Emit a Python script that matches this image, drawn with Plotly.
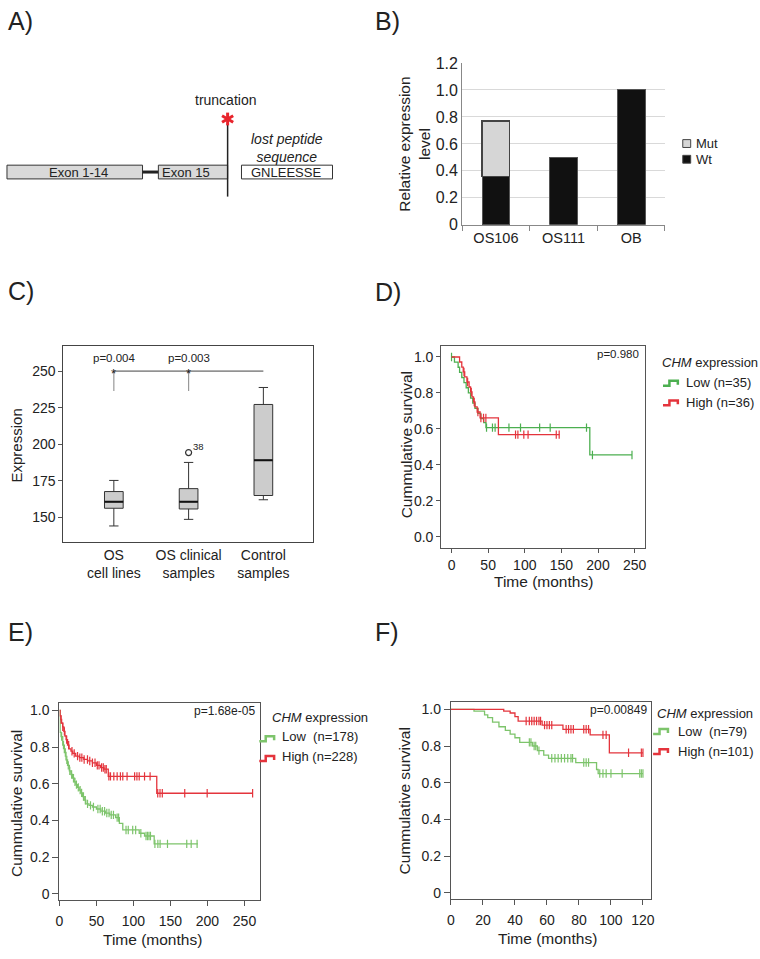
import numpy as np
import plotly.graph_objects as go

W, H = 760, 959
FONT = "Liberation Sans, Arial, Helvetica, sans-serif"
INK = "#222222"
GREEN_D = "#4caf50"
GREEN_EF = "#7dc46b"
RED = "#e4343c"

# ---- B) relative expression
b_samples = ["OS106", "OS111", "OB"]
b_wt = [0.36, 0.50, 1.00]
b_mut = [0.41, None, None]
b_ytick = [0, 0.2, 0.4, 0.6, 0.8, 1.0, 1.2]
b_yticktext = ["0", "0.2", "0.4", "0.6", "0.8", "1.0", "1.2"]

# ---- C) expression boxplot
c_groups = ["OS<br>cell lines", "OS clinical<br>samples", "Control<br>samples"]
c_lowerfence = [144.2, 148.7, 162.1]
c_q1 = [156.3, 155.8, 165.0]
c_median = [160.7, 160.7, 189.1]
c_q3 = [167.7, 169.7, 227.2]
c_upperfence = [175.3, 187.6, 238.8]
c_outlier_x = [1]
c_outlier_y = [194.3]
c_outlier_label = ["38"]
c_pvalues = ["p=0.004", "p=0.003"]
c_bracket_y = 250
c_bracket_base = 236.4

# ---- D) survival, first cohort
d_low_t = [0, 4, 9, 11, 14, 17, 20, 23, 26, 29, 32, 36, 40, 44, 47, 188.8]
d_low_s = [1.0, 0.971, 0.943, 0.914, 0.886, 0.857, 0.829, 0.800, 0.771, 0.743, 0.714, 0.686, 0.657, 0.635, 0.607, 0.455]
d_low_end = 246.4
d_low_cens = [0, 47.8, 55.9, 59.5, 78.4, 94.2, 120.3, 134.7, 184.3, 192.4, 246.4]
d_high_t = [0, 11, 14, 16, 18, 21, 24, 26, 28, 30, 32, 35, 39, 64]
d_high_s = [1.0, 0.972, 0.944, 0.917, 0.889, 0.861, 0.833, 0.806, 0.778, 0.750, 0.722, 0.694, 0.661, 0.568]
d_high_end = 147.5
d_high_cens = [17, 22, 27, 31, 36, 40.1, 43.7, 46.9, 87.4, 90.6, 98.7, 104.5, 143, 147]

# ---- E) survival, second cohort
e_high_t = [0, 1, 2, 3, 4.5, 6, 7.5, 9, 11, 13, 15.6, 18, 22, 27, 33, 38, 44.6, 50, 55.7, 60, 66, 131.5]
e_high_s = [1.0, 0.97, 0.95, 0.93, 0.91, 0.885, 0.86, 0.84, 0.81, 0.79, 0.777, 0.765, 0.75, 0.742, 0.732,
            0.724, 0.714, 0.70, 0.688, 0.679, 0.640, 0.548]
e_high_end = 261
e_high_cens = [2.2, 4.5, 6.7, 9.8, 12.5, 17, 20, 24.5, 27.6, 30.3, 33.4, 37.9, 41, 44.6, 48.1, 51.2, 53.5,
               57, 59.3, 61.5, 63.3, 66.8, 69, 73.5, 78, 82.4, 85.6, 91.4, 101.6, 104.7, 107.8, 115, 122.5,
               132.8, 135.9, 139, 169.3, 199.6, 261]
e_low_t = [0, 1, 2.2, 4.5, 6.7, 8.9, 11, 13.4, 15.5, 17.8, 20, 22.3, 24.5, 26.7, 29, 31.2, 33.5, 35.7, 40,
           44.6, 50, 56, 62, 68, 76, 81, 85.6, 107.8, 115, 128]
e_low_s = [1.0, 0.88, 0.857, 0.81, 0.77, 0.73, 0.70, 0.67, 0.65, 0.63, 0.61, 0.595, 0.58, 0.565, 0.55, 0.53,
           0.51, 0.49, 0.482, 0.473, 0.462, 0.450, 0.440, 0.430, 0.415, 0.384, 0.348, 0.330, 0.315, 0.272]
e_low_end = 187
e_low_cens = [3, 5.5, 8, 10, 12, 14, 16.5, 19, 21, 23, 25.5, 28, 30, 32.5, 35, 38, 42, 46, 52, 55, 58, 61,
              64, 67, 70, 73, 78, 80, 90, 93, 99, 103, 110, 117, 119, 121, 123, 129, 133, 136, 146, 172,
              178, 186]

# ---- F) survival, third cohort
f_high_t = [0, 33, 37, 40, 42, 57, 70, 87, 99]
f_high_s = [1.0, 0.99, 0.98, 0.96, 0.936, 0.914, 0.891, 0.861, 0.763]
f_high_end = 120
f_high_cens = [47, 49, 50.5, 52, 53.5, 55, 56, 58.5, 60, 61.5, 63, 72, 73.5, 75, 76.5, 83, 84.5, 86, 95, 97,
               111, 119, 120]
f_low_t = [0, 14.4, 21, 23, 26, 30, 34, 37, 40, 43, 51, 54, 58, 61, 78, 91, 92]
f_low_s = [1.0, 0.99, 0.97, 0.955, 0.93, 0.905, 0.885, 0.865, 0.845, 0.82, 0.80, 0.775, 0.75, 0.733, 0.71,
           0.672, 0.65]
f_low_end = 120
f_low_cens = [49, 50, 52, 53, 55, 63, 65, 67, 69, 71, 73, 75, 76, 83, 84.5, 86, 93, 95, 97, 100, 107, 118,
              119, 120]

surv_ticks = [0, 0.2, 0.4, 0.6, 0.8, 1.0]
surv_ticktext = ["0", "0.2", "0.4", "0.6", "0.8", "1.0"]


def km_at(t, s, tc):
    idx = np.searchsorted(np.asarray(t), np.asarray(tc), side="right") - 1
    return np.asarray(s)[idx]


def add_km(fig, t, s, end, cens, color, xa, ya):
    fig.add_trace(go.Scatter(x=list(t) + [end], y=list(s) + [s[-1]], mode="lines",
                             line=dict(color=color, width=1.3, shape="hv"),
                             xaxis=xa, yaxis=ya, hoverinfo="skip"))
    fig.add_trace(go.Scatter(x=cens, y=km_at(t, s, cens), mode="markers",
                             marker=dict(symbol="line-ns", size=6, line=dict(color=color, width=1.2)),
                             xaxis=xa, yaxis=ya, hoverinfo="skip"))


def frame(**kw):
    d = dict(showline=True, mirror=True, linecolor="#555", linewidth=1.3, ticks="outside", ticklen=4,
             tickcolor="#555", showgrid=False, zeroline=False, fixedrange=True,
             tickfont=dict(size=14, color=INK))
    d.update(kw)
    return d


def dom_x(a, b):
    return [a / W, b / W]


def dom_y(bottom, top):
    return [1 - bottom / H, 1 - top / H]


def txt(x, y, text, size, xanchor="center", angle=0, color=INK):
    return dict(x=x, y=y, xref="x6", yref="y6", text=text, showarrow=False, xanchor=xanchor,
                yanchor="middle", textangle=angle, font=dict(size=size, color=color))


fig = go.Figure()

# B
fig.add_trace(go.Bar(x=b_samples, y=b_wt, name="Wt", marker=dict(color="#111111", line=dict(color="#555", width=1)),
                     xaxis="x", yaxis="y"))
fig.add_trace(go.Bar(x=b_samples, y=b_mut, name="Mut", marker=dict(color="#d6d6d6", line=dict(color="#444", width=1.2)),
                     xaxis="x", yaxis="y"))

# C
C_BOX_W = 0.25
fig.add_trace(go.Box(x=[0, 1, 2], q1=c_q1, median=c_median, q3=c_q3, lowerfence=c_lowerfence,
                     upperfence=c_upperfence, width=C_BOX_W, whiskerwidth=0.5, boxpoints=False,
                     fillcolor="#cccccc", line=dict(color="#333", width=1), xaxis="x2", yaxis="y2",
                     hoverinfo="skip"))
mx, my = [], []
for i, m in enumerate(c_median):
    mx += [i - C_BOX_W / 2, i + C_BOX_W / 2, None]
    my += [m, m, None]
fig.add_trace(go.Scatter(x=mx, y=my, mode="lines", line=dict(color="#111", width=2), xaxis="x2", yaxis="y2",
                         hoverinfo="skip"))
fig.add_trace(go.Scatter(x=c_outlier_x, y=c_outlier_y, mode="markers",
                         marker=dict(symbol="circle-open", size=6, color="#333", line=dict(width=1.2)),
                         xaxis="x2", yaxis="y2", hoverinfo="skip"))

# D, E, F
add_km(fig, d_low_t, d_low_s, d_low_end, d_low_cens, GREEN_D, "x3", "y3")
add_km(fig, d_high_t, d_high_s, d_high_end, d_high_cens, RED, "x3", "y3")
add_km(fig, e_low_t, e_low_s, e_low_end, e_low_cens, GREEN_EF, "x4", "y4")
add_km(fig, e_high_t, e_high_s, e_high_end, e_high_cens, RED, "x4", "y4")
add_km(fig, f_low_t, f_low_s, f_low_end, f_low_cens, GREEN_EF, "x5", "y5")
add_km(fig, f_high_t, f_high_s, f_high_end, f_high_cens, RED, "x5", "y5")

# pixel overlay for drawings and labels
fig.add_trace(go.Scatter(x=[], y=[], xaxis="x6", yaxis="y6"))

shapes = []
ann = []

# A) gene diagram
shapes += [
    dict(type="rect", xref="x6", yref="y6", x0=3, x1=140, y0=160, y1=174, fillcolor="#d9d9d9", line=dict(color="#333", width=1)),
    dict(type="line", xref="x6", yref="y6", x0=140, x1=156, y0=167, y1=167, line=dict(color="#222", width=3)),
    dict(type="rect", xref="x6", yref="y6", x0=156, x1=226, y0=160, y1=174, fillcolor="#d9d9d9", line=dict(color="#333", width=1)),
    dict(type="rect", xref="x6", yref="y6", x0=240, x1=332, y0=160, y1=174, fillcolor="#ffffff", line=dict(color="#333", width=1)),
    dict(type="line", xref="x6", yref="y6", x0=226, x1=226, y0=118, y1=192, line=dict(color="#222", width=1.5)),
]
# red six-armed star marking the truncation site
STAR_X, STAR_Y, STAR_R = 226, 113, 6.5
for dx, dy in [(0, 1), (0.866, 0.5), (0.866, -0.5)]:
    shapes.append(dict(type="line", xref="x6", yref="y6",
                       x0=STAR_X - dx * STAR_R, x1=STAR_X + dx * STAR_R,
                       y0=STAR_Y - dy * STAR_R, y1=STAR_Y + dy * STAR_R,
                       line=dict(color="#e8242c", width=3)))
ann += [
    txt(75, 167, "Exon 1-14", 13),
    txt(184, 167, "Exon 15", 13),
    txt(285, 167, "GNLEESSE", 13),
    txt(224, 94, "truncation", 14),
    txt(286, 142.5, "<i>lost peptide<br>sequence</i>", 14),
]

# B legend + title
shapes += [
    dict(type="rect", xref="x6", yref="y6", x0=686, x1=694, y0=134, y1=142, fillcolor="#d6d6d6", line=dict(color="#444", width=1)),
    dict(type="rect", xref="x6", yref="y6", x0=686, x1=694, y0=150, y1=158, fillcolor="#111111", line=dict(color="#444", width=1)),
]
ann += [
    txt(697, 138, "Mut", 13, xanchor="left"),
    txt(697, 154, "Wt", 13, xanchor="left"),
    txt(414, 138.5, "Relative expression<br>level", 15.5, angle=-90),
]

# C significance bracket and outlier label
shapes += [
    dict(type="line", xref="x2", yref="y2", x0=0, x1=2, y0=c_bracket_y, y1=c_bracket_y, line=dict(color="#444", width=1)),
    dict(type="line", xref="x2", yref="y2", x0=0, x1=0, y0=c_bracket_base, y1=c_bracket_y, line=dict(color="#999", width=1.2)),
    dict(type="line", xref="x2", yref="y2", x0=1, x1=1, y0=c_bracket_base, y1=c_bracket_y, line=dict(color="#999", width=1.2)),
]
for i, p in enumerate(c_pvalues):
    ann.append(dict(x=i, y=259.2, xref="x2", yref="y2", text=p, showarrow=False, font=dict(size=11.5, color=INK)))
    ann.append(dict(x=i, y=248.6, xref="x2", yref="y2", text="*", showarrow=False, font=dict(size=13, color=INK)))
for xo, yo, lab in zip(c_outlier_x, c_outlier_y, c_outlier_label):
    ann.append(dict(x=xo, y=yo, xref="x2", yref="y2", text=lab, showarrow=False, xanchor="left", yanchor="bottom",
                    xshift=2, yshift=-1, font=dict(size=9.5, color=INK)))
ann.append(txt(12.5, 445, "Expression", 15, angle=-90))


# KM legends
def icon(x0, yc, color):
    return dict(type="path", xref="x6", yref="y6",
                path=f"M {x0},{yc + 2.5} H {x0 + 6.5} V {yc - 2.5} H {x0 + 15} V {yc + 1.5}",
                line=dict(color=color, width=2.5))


shapes += [icon(666, 382, GREEN_D), icon(666, 402, RED),
           icon(258, 744, GREEN_EF), icon(258, 764, RED),
           icon(656, 736.5, GREEN_EF), icon(656, 757, RED)]
ann += [
    txt(663, 361, "<i>CHM</i> expression", 13, xanchor="left"),
    txt(687, 381.5, "Low (n=35)", 13, xanchor="left"),
    txt(687, 401.5, "High (n=36)", 13, xanchor="left"),
    txt(269.3, 722, "<i>CHM</i> expression", 13, xanchor="left"),
    txt(279.3, 741.5, "Low\u00a0\u00a0(n=178)", 13, xanchor="left"),
    txt(279.3, 762, "High (n=228)", 13, xanchor="left"),
    txt(658.3, 718.3, "<i>CHM</i> expression", 13, xanchor="left"),
    txt(679.3, 736.7, "Low\u00a0\u00a0(n=79)", 13, xanchor="left"),
    txt(679.3, 756.7, "High (n=101)", 13, xanchor="left"),
    txt(643.3, 352.7, "p=0.980", 11.5, xanchor="right"),
    txt(256, 716, "p=1.68e-05", 12, xanchor="right"),
    txt(651.7, 715, "p=0.00849", 12, xanchor="right"),
    txt(406.5, 445, "Cummulative survival", 15.5, angle=-90),
    txt(545, 583.5, "Time (months)", 15.5),
    txt(12.5, 810, "Cummulative survival", 15.5, angle=-90),
    txt(150, 948, "Time (months)", 15.5),
    txt(405, 807, "Cummulative survival", 15.5, angle=-90),
    txt(549, 947, "Time (months)", 15.5),
]

# panel letters
for lab, x, y in [("A)", 2, 13), ("B)", 373, 13), ("C)", 2, 288), ("D)", 373, 289), ("E)", 2, 635), ("F)", 373, 635)]:
    ann.append(txt(x, y, lab, 25, xanchor="left"))

fig.update_layout(
    width=W, height=H, margin=dict(l=0, r=0, t=0, b=0), autosize=False,
    paper_bgcolor="#ffffff", plot_bgcolor="rgba(0,0,0,0)",
    font=dict(family=FONT, color=INK), showlegend=False,
    barmode="stack", bargap=0.59,
    xaxis=dict(domain=dom_x(463, 668), anchor="y", type="category", tickson="boundaries", ticks="outside",
               ticklen=5, tickcolor="#888", showline=True, linecolor="#888", showgrid=False,
               tickfont=dict(size=14.5, color=INK), fixedrange=True),
    yaxis=dict(domain=dom_y(220.7, 56), anchor="x", range=[0, 1.2], tickvals=b_ytick, ticktext=b_yticktext,
               showgrid=True, gridcolor="#d9d9d9", showline=True, linecolor="#888", zeroline=False,
               tickfont=dict(size=16, color=INK), fixedrange=True),
    xaxis2=frame(domain=dom_x(60, 312), anchor="y2", range=[-0.675, 2.66], tickvals=[0, 1, 2],
                 ticktext=c_groups, ticks="", linecolor="#444", linewidth=1),
    yaxis2=frame(domain=dom_y(544, 344), anchor="x2", range=[133, 267.2], tickvals=[150, 175, 200, 225, 250],
                 linecolor="#444", linewidth=1),
    xaxis3=frame(domain=dom_x(442, 647.7), anchor="y3", range=[-13.9, 264], tickvals=[0, 50, 100, 150, 200, 250]),
    yaxis3=frame(domain=dom_y(549.3, 344.3), anchor="x3", range=[-0.06, 1.06], tickvals=surv_ticks,
                 tickformat=".1f"),
    xaxis4=frame(domain=dom_x(56, 258.3), anchor="y4", range=[0, 270.4], tickvals=[0, 50, 100, 150, 200, 250],
                 ticklen=5, ticklabelstandoff=3),
    yaxis4=frame(domain=dom_y(908.3, 707.7), anchor="x4", range=[-0.035, 1.039], tickvals=surv_ticks,
                 ticktext=surv_ticktext, ticklen=6),
    xaxis5=frame(domain=dom_x(451.7, 654), anchor="y5", range=[0, 125.1], tickvals=[0, 20, 40, 60, 80, 100, 120],
                 ticklen=5, ticklabelstandoff=3),
    yaxis5=frame(domain=dom_y(907.3, 706.7), anchor="x5", range=[-0.035, 1.039], tickvals=surv_ticks,
                 ticktext=surv_ticktext, ticklen=6),
    xaxis6=dict(domain=[0, 1], anchor="y6", range=[0, W], visible=False, fixedrange=True),
    yaxis6=dict(domain=[0, 1], anchor="x6", range=[H, 0], visible=False, fixedrange=True),
    shapes=shapes, annotations=ann,
)

fig.write_html("out.html", config={"displayModeBar": False},
               post_script="document.body.style.margin='0';")
